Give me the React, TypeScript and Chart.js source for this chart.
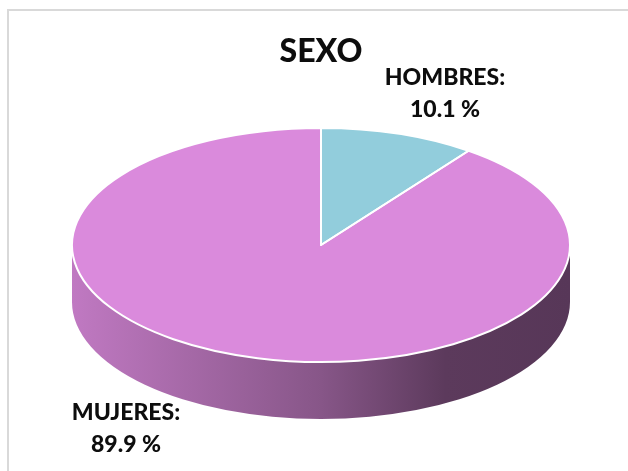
import { useEffect, useRef } from "react";
import { Chart, registerables } from "chart.js";

Chart.register(...registerables);

// ---- data ----
const categories = ["HOMBRES", "MUJERES"];
const shares = [10.1, 89.9];
const sliceColors = ["#92CDDC", "#DA8ADC"];
const chartTitle = "SEXO";

// ---- styling / projection of the tilted pie ----
const PIE = { cx: 321, cy: 245, rx: 249, ry: 117, depth: 57 };
const LABEL_ANCHORS = [
  { x: 445, y: 85 },
  { x: 126, y: 420 },
];
const LABEL_LINE_GAP = 32;
const TEXT_COLOR = "#0d0d0d";
const LABEL_FONT = "900 23px Lato";

function shade(hex: string, f: number): string {
  const n = parseInt(hex.slice(1), 16);
  const r = Math.round(((n >> 16) & 255) * f);
  const g = Math.round(((n >> 8) & 255) * f);
  const b = Math.round((n & 255) * f);
  return `rgb(${r},${g},${b})`;
}

function pt(t: number, dy = 0): [number, number] {
  return [PIE.cx + PIE.rx * Math.cos(t), PIE.cy + dy + PIE.ry * Math.sin(t)];
}

// Draws the extruded side wall under each slice, then tilts the slice tops.
const pie3d = {
  id: "pie3d",
  beforeDatasetsDraw(chart: any) {
    const ctx: CanvasRenderingContext2D = chart.ctx;
    const meta = chart.getDatasetMeta(0);
    const { cx, cy, rx, ry, depth } = PIE;

    meta.data.forEach((arc: any, i: number) => {
      const { startAngle, endAngle } = arc.getProps(["startAngle", "endAngle"], true);
      const t0 = Math.max(startAngle, 0);
      const t1 = Math.min(endAngle, Math.PI);
      if (t1 <= t0) return;
      const base = sliceColors[i];
      const grad = ctx.createLinearGradient(cx - rx, 0, cx + rx, 0);
      grad.addColorStop(0, shade(base, 0.88));
      grad.addColorStop(0.5, shade(base, 0.62));
      grad.addColorStop(0.75, shade(base, 0.42));
      grad.addColorStop(1, shade(base, 0.4));
      ctx.save();
      ctx.beginPath();
      ctx.ellipse(cx, cy, rx, ry, 0, t0, t1, false);
      const [bx, by] = pt(t1, depth);
      ctx.lineTo(bx, by);
      ctx.ellipse(cx, cy + depth, rx, ry, 0, t1, t0, true);
      ctx.closePath();
      ctx.fillStyle = grad;
      ctx.fill();
      ctx.restore();
    });

    const a = meta.data[0];
    const R = a.outerRadius;
    ctx.save();
    ctx.translate(cx, cy);
    ctx.scale(rx / R, ry / R);
    ctx.translate(-a.x, -a.y);
  },
  afterDatasetsDraw(chart: any) {
    const ctx: CanvasRenderingContext2D = chart.ctx;
    ctx.restore();
    const meta = chart.getDatasetMeta(0);
    const { cx, cy, rx, ry } = PIE;
    ctx.save();
    ctx.strokeStyle = "#ffffff";
    ctx.lineWidth = 2;
    ctx.lineJoin = "round";
    meta.data.forEach((arc: any) => {
      const { startAngle, endAngle } = arc.getProps(["startAngle", "endAngle"], true);
      ctx.beginPath();
      ctx.moveTo(cx, cy);
      const [sx, sy] = pt(startAngle);
      ctx.lineTo(sx, sy);
      ctx.ellipse(cx, cy, rx, ry, 0, startAngle, endAngle, false);
      ctx.closePath();
      ctx.stroke();
    });
    ctx.restore();
  },
  afterDraw(chart: any) {
    const ctx: CanvasRenderingContext2D = chart.ctx;
    const values = chart.data.datasets[0].data as number[];
    ctx.save();
    ctx.fillStyle = TEXT_COLOR;
    ctx.font = LABEL_FONT;
    ctx.textAlign = "center";
    ctx.textBaseline = "alphabetic";
    (chart.data.labels as string[]).forEach((label, i) => {
      const p = LABEL_ANCHORS[i];
      ctx.fillText(`${label}:`, p.x, p.y);
      ctx.fillText(`${values[i].toFixed(1)} %`, p.x, p.y + LABEL_LINE_GAP);
    });
    ctx.restore();
  },
};

export default function App() {
  const ref = useRef<HTMLCanvasElement>(null);

  useEffect(() => {
    if (!ref.current) return;
    Chart.defaults.font.family = "Lato";
    const chart = new Chart(ref.current, {
      type: "pie",
      data: {
        labels: categories,
        datasets: [
          {
            data: shares,
            backgroundColor: sliceColors,
            borderWidth: 0,
          },
        ],
      },
      options: {
        responsive: false,
        animation: false,
        devicePixelRatio: 1,
        events: [],
        layout: { padding: { left: 14, top: 0, right: 0, bottom: 0 } },
        plugins: {
          legend: { display: false },
          tooltip: { enabled: false },
          title: {
            display: true,
            text: chartTitle,
            color: TEXT_COLOR,
            font: { family: "Lato", size: 32, weight: 900 },
            padding: { top: 32, bottom: 0 },
          },
        },
      },
      plugins: [pie3d],
    });
    return () => chart.destroy();
  }, []);

  return (
    <div style={{ position: "absolute", left: 0, top: 0, width: 628, height: 471, background: "#ffffff", overflow: "hidden" }}>
      <div
        style={{
          position: "absolute",
          left: 7,
          top: 9,
          right: -10,
          bottom: -10,
          borderLeft: "2px solid #d9d9d9",
          borderTop: "2px solid #d9d9d9",
        }}
      />
      <canvas ref={ref} width={628} height={471} style={{ position: "absolute", left: 0, top: 0 }} />
    </div>
  );
}
